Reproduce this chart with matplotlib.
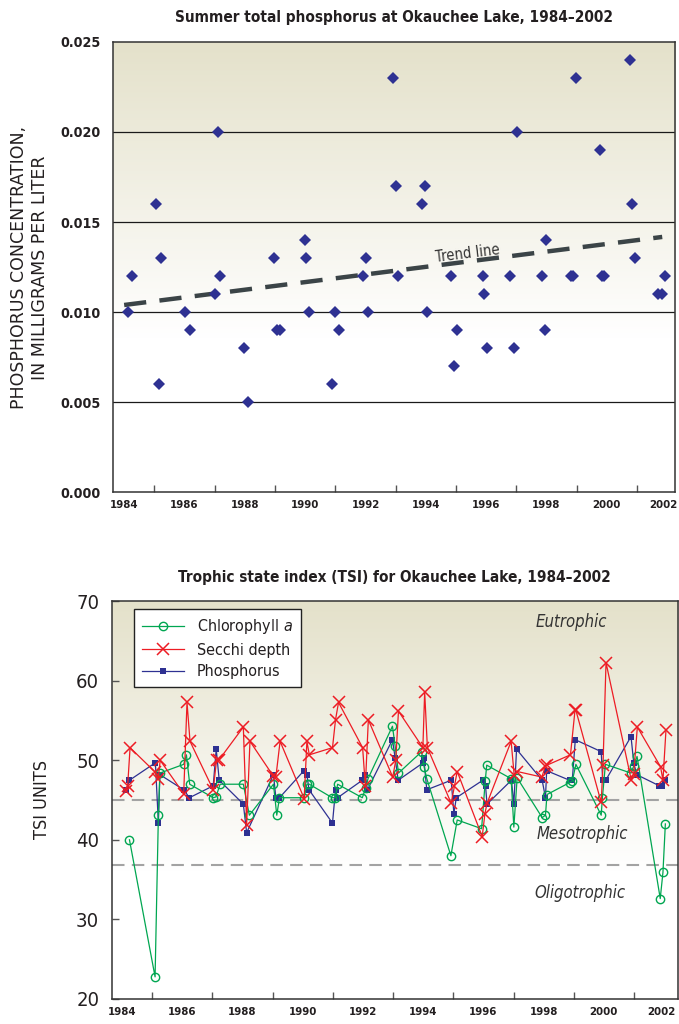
import numpy as np
import matplotlib
matplotlib.use("Agg")
import matplotlib.pyplot as plt
from matplotlib.colors import LinearSegmentedColormap
from matplotlib.transforms import ScaledTranslation

plt.rcParams['font.family'] = ['DejaVu Sans']
plt.rcParams['font.stretch'] = 'condensed'
plt.rcParams['mathtext.fontset'] = 'custom'
plt.rcParams['mathtext.it'] = 'DejaVu Sans:italic'
plt.rcParams['mathtext.rm'] = 'DejaVu Sans'

# ---- top chart: summer total phosphorus (mg/L) ----
tp_year = [1984.12, 1984.26,
           1985.04, 1985.14, 1985.22,
           1986.03, 1986.19,
           1987.02, 1987.12, 1987.18,
           1987.99, 1988.09,
           1988.96, 1989.06, 1989.16,
           1989.98, 1990.03, 1990.12,
           1990.90, 1991.00, 1991.11,
           1991.93, 1992.02, 1992.07,
           1992.90, 1993.00, 1993.08,
           1993.87, 1993.96, 1994.05,
           1994.84, 1994.92, 1995.02,
           1995.89, 1995.94, 1996.04,
           1996.79, 1996.91, 1997.02,
           1997.84, 1997.95, 1997.99,
           1998.81, 1998.88, 1998.97,
           1999.79, 1999.84, 1999.91,
           2000.77, 2000.85, 2000.94,
           2001.70, 2001.82, 2001.92]
tp_conc = [0.010, 0.012,
           0.016, 0.006, 0.013,
           0.010, 0.009,
           0.011, 0.020, 0.012,
           0.008, 0.005,
           0.013, 0.009, 0.009,
           0.014, 0.013, 0.010,
           0.006, 0.010, 0.009,
           0.012, 0.013, 0.010,
           0.023, 0.017, 0.012,
           0.016, 0.017, 0.010,
           0.012, 0.007, 0.009,
           0.012, 0.011, 0.008,
           0.012, 0.008, 0.020,
           0.012, 0.009, 0.014,
           0.012, 0.012, 0.023,
           0.019, 0.012, 0.012,
           0.024, 0.016, 0.013,
           0.011, 0.011, 0.012]
trend_year = [1984.0, 2001.84]
trend_conc = [0.01039, 0.01417]

# ---- bottom chart: trophic state index ----
chl_year = [1984.25,
            1985.10, 1985.21, 1985.26,
            1986.05, 1986.14, 1986.25,
            1987.03, 1987.12, 1987.26,
            1988.03, 1988.23,
            1989.03, 1989.14, 1989.23,
            1990.05, 1990.14, 1990.22,
            1990.98, 1991.08, 1991.16,
            1991.98, 1992.09, 1992.17,
            1992.98, 1993.07, 1993.18,
            1993.95, 1994.03, 1994.12,
            1994.92, 1995.13,
            1995.94, 1996.06, 1996.11,
            1996.92, 1997.01, 1997.12,
            1997.95, 1998.06, 1998.11,
            1998.86, 1998.95, 1999.07,
            1999.91, 1999.95, 2000.05,
            2000.90, 2000.99, 2001.10,
            2001.87, 2001.96, 2002.04]
chl_tsi = [40.0,
           22.75, 43.1, 48.4,
           49.5, 50.7, 47.0,
           45.3, 45.4, 47.0,
           47.0, 43.1,
           47.0, 43.1, 45.3,
           45.3, 47.0, 47.0,
           45.3, 45.3, 47.0,
           45.3, 46.5, 47.7,
           54.3, 51.8, 48.4,
           51.1, 49.2, 47.7,
           38.0, 42.5,
           41.4, 47.4, 49.4,
           47.7, 41.6, 47.8,
           42.8, 43.1, 45.7,
           47.2, 47.4, 49.5,
           43.1, 45.3, 49.5,
           48.4, 49.3, 50.5,
           32.6, 35.9, 42.0]

secchi_year = [1984.14, 1984.19, 1984.27,
               1985.11, 1985.20, 1985.27,
               1986.05, 1986.16, 1986.26,
               1987.03, 1987.14, 1987.23,
               1988.03, 1988.14, 1988.25,
               1989.03, 1989.11, 1989.25,
               1990.05, 1990.14, 1990.22,
               1990.99, 1991.09, 1991.19,
               1991.99, 1992.08, 1992.18,
               1992.99, 1993.09, 1993.18,
               1993.99, 1994.05, 1994.14,
               1994.93, 1995.04, 1995.13,
               1995.96, 1996.05, 1996.12,
               1996.92, 1997.02, 1997.12,
               1997.94, 1998.06, 1998.11,
               1998.89, 1999.04, 1999.07,
               1999.91, 1999.97, 2000.07,
               2000.91, 2000.99, 2001.11,
               2001.88, 2001.96, 2002.06]
secchi_tsi = [46.2, 46.8, 51.6,
              48.5, 47.6, 50.0,
              45.8, 57.3, 52.4,
              46.3, 50.0, 50.1,
              54.2, 41.9, 52.4,
              48.0, 47.9, 52.4,
              45.2, 52.4, 50.7,
              51.6, 55.1, 57.3,
              51.6, 46.8, 55.1,
              47.9, 50.0, 56.2,
              51.6, 58.6, 51.6,
              44.6, 46.8, 48.6,
              40.4, 43.3, 44.6,
              52.4, 48.2, 48.6,
              47.9, 49.3, 49.4,
              50.7, 56.3, 56.3,
              44.7, 49.4, 62.3,
              47.5, 48.3, 54.2,
              49.2, 47.5, 53.8]

phos_year = [1984.14, 1984.25,
             1985.11, 1985.21, 1985.26,
             1986.05, 1986.24,
             1987.03, 1987.13, 1987.23,
             1988.03, 1988.14,
             1989.03, 1989.11, 1989.23,
             1990.04, 1990.14, 1990.21,
             1990.99, 1991.09, 1991.16,
             1991.98, 1992.08, 1992.15,
             1992.98, 1993.07, 1993.17,
             1994.00, 1994.02, 1994.12,
             1994.93, 1995.02, 1995.10,
             1995.98, 1996.07, 1996.12,
             1996.93, 1997.01, 1997.10,
             1997.95, 1998.06, 1998.10,
             1998.86, 1998.95, 1999.05,
             1999.91, 1999.96, 2000.06,
             2000.90, 2000.99, 2001.09,
             2001.84, 2001.94, 2002.04]
phos_tsi = [46.3, 47.5,
            49.7, 42.1, 48.2,
            46.3, 45.3,
            46.8, 51.4, 47.5,
            44.5, 40.9,
            48.2, 45.3, 45.3,
            48.7, 48.2, 46.3,
            42.1, 46.3, 45.3,
            47.5, 48.2, 46.3,
            52.6, 50.3, 47.5,
            49.7, 50.3, 46.3,
            47.5, 43.3, 45.3,
            47.5, 46.8, 44.5,
            47.5, 44.5, 51.4,
            47.5, 45.3, 48.7,
            47.5, 47.5, 52.6,
            51.1, 47.5, 47.5,
            53.0, 49.7, 48.2,
            46.8, 46.8, 47.5]

tsi_bounds = [45.0, 36.8]
label_years = list(range(1984, 2003, 2))

BLUE = '#2e3192'
RED = '#ed1c24'
GREEN = '#00a651'
TXT = '#231f20'
tan = LinearSegmentedColormap.from_list('tan', ['#ffffff', '#e4e1ca'])

fig = plt.figure(figsize=(6.79, 10.24), dpi=100)


def shade(ax, x0, x1, ylo, yhi, ywhite):
    ys = np.linspace(yhi, ylo, 400)
    t = np.clip((ys - ywhite) / (yhi - ywhite), 0, 1)
    ax.imshow(t[:, None], extent=[x0, x1, ylo, yhi], aspect='auto',
              cmap=tan, vmin=0, vmax=1, zorder=0, origin='upper')


def year_axis(ax, nudge):
    ax.set_xticks(label_years)
    ax.set_xticklabels([str(y) for y in label_years])
    ax.set_xticks(range(1985, 2002, 2), minor=True)
    ax.tick_params(axis='x', which='major', length=0, pad=6,
                   labelsize=8.2, colors=TXT)
    ax.tick_params(axis='x', which='minor', length=5, width=1,
                   direction='in', color='#555555')
    for lab in ax.get_xticklabels():
        lab.set_fontweight('bold')
    # pull the last year label in a little so it stays on the page
    last = ax.get_xticklabels()[-1]
    last.set_transform(last.get_transform() +
                       ScaledTranslation(-nudge / 100, 0, fig.dpi_scale_trans))
    for sp in ax.spines.values():
        sp.set_linewidth(1.1)
        sp.set_color('#333333')


# ---------------- top chart ----------------
ax1 = fig.add_axes([0.1664, 0.5195, 0.828, 0.4395])
x0, x1 = 1983.63, 2002.27
shade(ax1, x0, x1, 0, 0.025, 0.0085)
ax1.set_xlim(x0, x1)
ax1.set_ylim(0, 0.025)
for g in [0.005, 0.010, 0.015, 0.020]:
    ax1.axhline(g, color='#1a1a1a', lw=0.9, zorder=1)
ax1.plot(trend_year, trend_conc, color='#3b4447', lw=3.2,
         dashes=(5, 3), zorder=2)
ax1.plot(tp_year, tp_conc, 'D', color=BLUE, ms=6.5, mew=0, zorder=3)
ax1.text(1995.4, 0.01262, 'Trend line', rotation=7, fontsize=10.5,
         color='#333333', ha='center', va='bottom')
ax1.set_yticks([0, 0.005, 0.010, 0.015, 0.020, 0.025])
ax1.set_yticklabels(['0.000', '0.005', '0.010', '0.015', '0.020', '0.025'])
ax1.tick_params(axis='y', length=0, pad=9, labelsize=10.3, colors=TXT)
for lab in ax1.get_yticklabels():
    lab.set_fontweight('bold')
year_axis(ax1, 4)

fig.text(0.581, 0.983, 'Summer total phosphorus at Okauchee Lake, 1984\u20132002',
         ha='center', va='center', fontsize=11, fontweight='bold', color=TXT)
fig.text(0.044, 0.739, 'PHOSPHORUS CONCENTRATION,\nIN MILLIGRAMS PER LITER',
         rotation=90, ha='center', va='center', fontsize=12.5,
         fontstretch='normal', multialignment='center', color=TXT,
         linespacing=1.2)

# ---------------- bottom chart ----------------
ax2 = fig.add_axes([0.1645, 0.0247, 0.8336, 0.3879])
x0, x1 = 1983.66, 2002.45
shade(ax2, x0, x1, 20, 70, 36.0)
ax2.set_xlim(x0, x1)
ax2.set_ylim(20, 70)
for b in tsi_bounds:
    ax2.axhline(b, color='#a3a3a3', lw=1.5, dashes=(6, 3.5), zorder=1)

ax2.plot(phos_year, phos_tsi, '-s', color=BLUE, lw=0.9, ms=4, mew=0,
         zorder=3, label='Phosphorus')
ax2.plot(chl_year, chl_tsi, '-o', color=GREEN, lw=0.9, ms=6, mfc='none',
         mew=1.0, zorder=4, label='Chlorophyll $\\it{a}$')
ax2.plot(secchi_year, secchi_tsi, '-x', color=RED, lw=0.9, ms=8, mew=1.1,
         zorder=5, label='Secchi depth')

h, l = ax2.get_legend_handles_labels()
order = [1, 2, 0]
leg = ax2.legend([h[i] for i in order], [l[i] for i in order],
                 loc='upper left', bbox_to_anchor=(0.04, 0.98),
                 borderaxespad=0, fontsize=11.5, frameon=True,
                 fancybox=False, edgecolor='#222222', framealpha=1,
                 handlelength=2.6, borderpad=0.5, labelspacing=0.4,
                 handletextpad=0.8)
leg.get_frame().set_linewidth(1.0)
for t in leg.get_texts():
    t.set_color(TXT)

ax2.text(1998.93, 67.4, 'Eutrophic', style='italic', fontsize=12,
         ha='center', va='center', color='#333333')
ax2.text(1999.27, 40.7, 'Mesotrophic', style='italic', fontsize=12,
         ha='center', va='center', color='#333333')
ax2.text(1999.21, 33.3, 'Oligotrophic', style='italic', fontsize=12,
         ha='center', va='center', color='#333333')

ax2.set_yticks([20, 30, 40, 50, 60, 70])
ax2.tick_params(axis='y', length=5, width=1, direction='in', pad=9,
                labelsize=14.5, colors=TXT)
ax2.tick_params(axis='y', color='#555555')
year_axis(ax2, 3)

fig.text(0.581, 0.4365, 'Trophic state index (TSI) for Okauchee Lake, 1984\u20132002',
         ha='center', va='center', fontsize=11, fontweight='bold', color=TXT)
fig.text(0.062, 0.219, 'TSI UNITS', rotation=90, ha='center', va='center',
         fontsize=13, color=TXT)

fig.savefig('out.png', dpi=100)
